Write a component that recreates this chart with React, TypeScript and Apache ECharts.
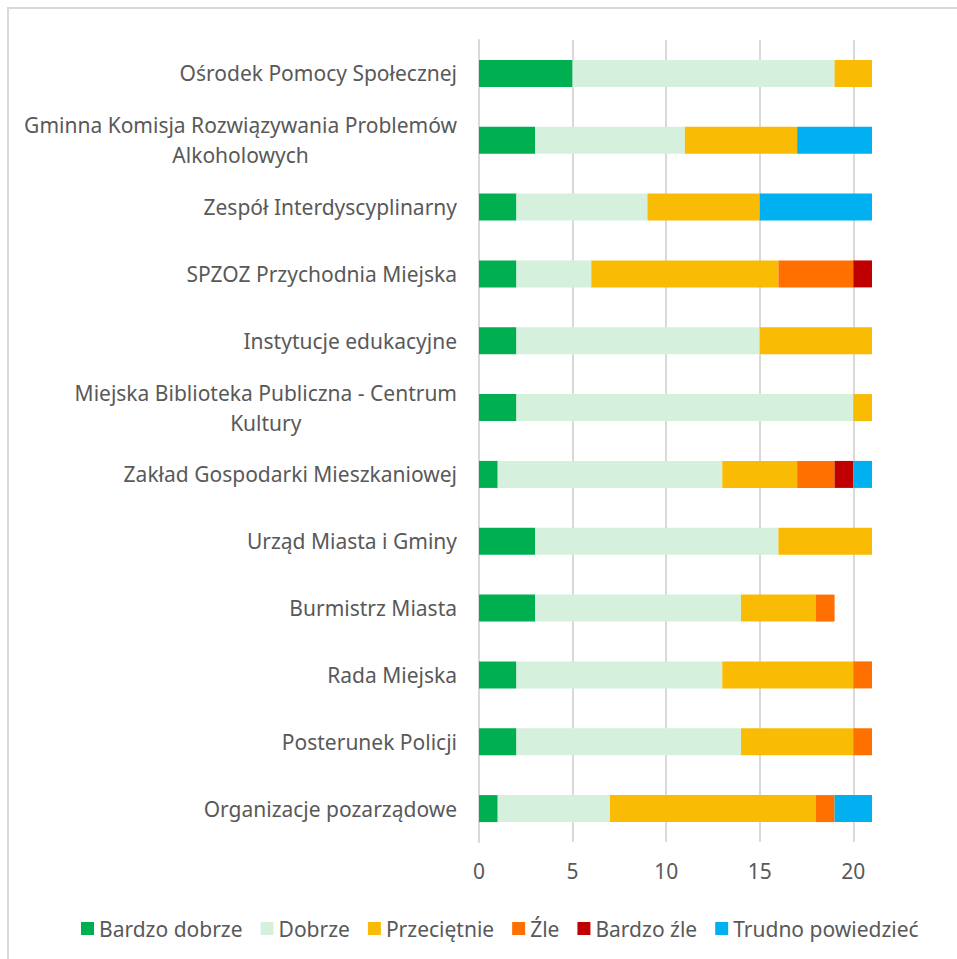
import React, { useEffect, useRef } from "react";
import * as echarts from "echarts";

const categories = [
  "Ośrodek Pomocy Społecznej",
  "Gminna Komisja Rozwiązywania Problemów Alkoholowych",
  "Zespół Interdyscyplinarny",
  "SPZOZ Przychodnia Miejska",
  "Instytucje edukacyjne",
  "Miejska Biblioteka Publiczna - Centrum Kultury",
  "Zakład Gospodarki Mieszkaniowej",
  "Urząd Miasta i Gminy",
  "Burmistrz Miasta",
  "Rada Miejska",
  "Posterunek Policji",
  "Organizacje pozarządowe",
];

const seriesNames = ["Bardzo dobrze", "Dobrze", "Przeciętnie", "Źle", "Bardzo źle", "Trudno powiedzieć"];

const bardzoDobrze = [5, 3, 2, 2, 2, 2, 1, 3, 3, 2, 2, 1];
const dobrze = [14, 8, 7, 4, 13, 18, 12, 13, 11, 11, 12, 6];
const przecietnie = [2, 6, 6, 10, 6, 1, 4, 5, 4, 7, 6, 11];
const zle = [0, 0, 0, 4, 0, 0, 2, 0, 1, 1, 1, 1];
const bardzoZle = [0, 0, 0, 1, 0, 0, 1, 0, 0, 0, 0, 0];
const trudno = [0, 4, 6, 0, 0, 0, 1, 0, 0, 0, 0, 2];

const tickValues = [0, 5, 10, 15, 20];

const colors = ["#00B050", "#D5F0DD", "#FABB05", "#FF7000", "#C00000", "#00B0F0"];

const FONT = "Noto Sans";
const TXT = "#595959";

export default function App() {
  const ref = useRef<HTMLDivElement>(null);
  useEffect(() => {
    if (!ref.current) return;
    const chart = echarts.init(ref.current, undefined, { renderer: "svg" });
    const values = [bardzoDobrze, dobrze, przecietnie, zle, bardzoZle, trudno];
    chart.setOption({
      animation: false,
      textStyle: { fontFamily: FONT },
      graphic: [
        {
          type: "rect",
          shape: { x: 8, y: 8, width: 960, height: 960 },
          style: { fill: "none", stroke: "#d9d9d9", lineWidth: 2 },
          z: -10,
        },
      ],
      grid: { left: 479, right: 85, top: 40, bottom: 117, containLabel: false },
      legend: {
        data: seriesNames,
        top: 913,
        left: 76,
        icon: "rect",
        itemWidth: 13,
        itemHeight: 13,
        itemGap: 18,
        textStyle: { color: TXT, fontSize: 21, fontFamily: FONT },
      },
      xAxis: {
        type: "value",
        min: 0,
        max: 21,
        interval: 5,
        axisLine: { show: false },
        axisTick: { show: false, customValues: tickValues },
        axisLabel: {
          customValues: tickValues,
          color: TXT,
          fontSize: 21,
          margin: 18,
          fontFamily: FONT,
        },
        splitLine: { show: true, lineStyle: { color: "#d9d9d9", width: 2 } },
      },
      yAxis: {
        type: "category",
        data: categories,
        inverse: true,
        axisLine: { show: true, lineStyle: { color: "#d9d9d9", width: 2 } },
        axisTick: { show: false },
        axisLabel: {
          margin: 22,
          color: TXT,
          fontSize: 21,
          fontFamily: FONT,
          formatter: (v: string) => {
            if (v.length > 40) {
              const i = v.lastIndexOf(" ");
              return `{c|${v.slice(0, i)}}\n{c|${v.slice(i + 1)}}`;
            }
            return `{c|${v}}`;
          },
          rich: {
            c: { align: "center", fontSize: 21, color: TXT, fontFamily: FONT, lineHeight: 30 },
          },
        },
      },
      series: seriesNames.map((name, i) => ({
        name,
        type: "bar",
        stack: "total",
        barWidth: 27,
        data: values[i],
        itemStyle: { color: colors[i] },
      })),
    });
    return () => chart.dispose();
  }, []);
  return (
    <div
      ref={ref}
      style={{ position: "absolute", left: 0, top: 0, width: 957, height: 959, background: "#fff" }}
    />
  );
}
